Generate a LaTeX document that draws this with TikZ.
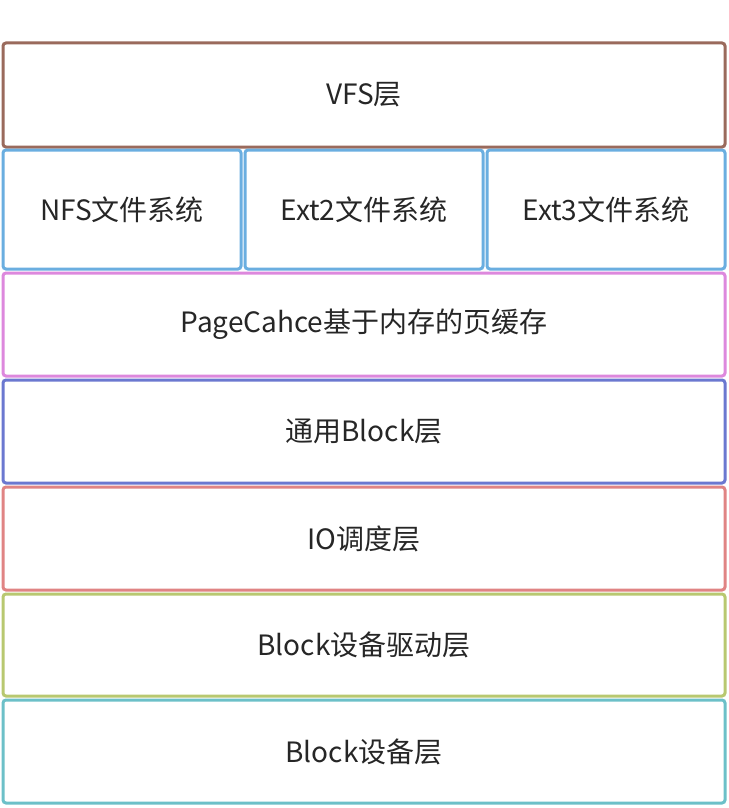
\documentclass[tikz,border=0pt]{standalone}
\usepackage{fontspec}
\setmainfont{Noto Sans CJK SC}
\begin{document}
\begin{tikzpicture}[x=1pt,y=-1pt,
  box/.style={draw=#1,line width=3pt,rounded corners=3pt,font=\fontsize{28}{33}\selectfont,text=black!85}]
\definecolor{cbrown}{HTML}{9A6A5C}
\definecolor{cblue}{HTML}{6AAEE0}
\definecolor{cpink}{HTML}{DD88DD}
\definecolor{cindigo}{HTML}{6B78D0}
\definecolor{cred}{HTML}{E08484}
\definecolor{colive}{HTML}{B8C870}
\definecolor{cteal}{HTML}{6CC0C8}
\useasboundingbox (0,0) rectangle (728,808);
\draw[box=cbrown] (3,43) rectangle node (vfs) {VFS层} (725,147);
\draw[box=cblue] (3,150) rectangle node (nfs) {NFS文件系统} (241,269);
\draw[box=cblue] (245,150) rectangle node (ext2) {Ext2文件系统} (483,269);
\draw[box=cblue] (487,150) rectangle node (ext3) {Ext3文件系统} (725,269);
\draw[box=cpink] (3,273) rectangle node (pc) {PageCahce基于内存的页缓存} (725,376);
\draw[box=cindigo] (3,380) rectangle node (gb) {通用Block层} (725,483);
\draw[box=cred] (3,487) rectangle node (io) {IO调度层} (725,590);
\draw[box=colive] (3,594) rectangle node (drv) {Block设备驱动层} (725,696);
\draw[box=cteal] (3,700) rectangle node (dev) {Block设备层} (725,803);
\end{tikzpicture}
\end{document}
